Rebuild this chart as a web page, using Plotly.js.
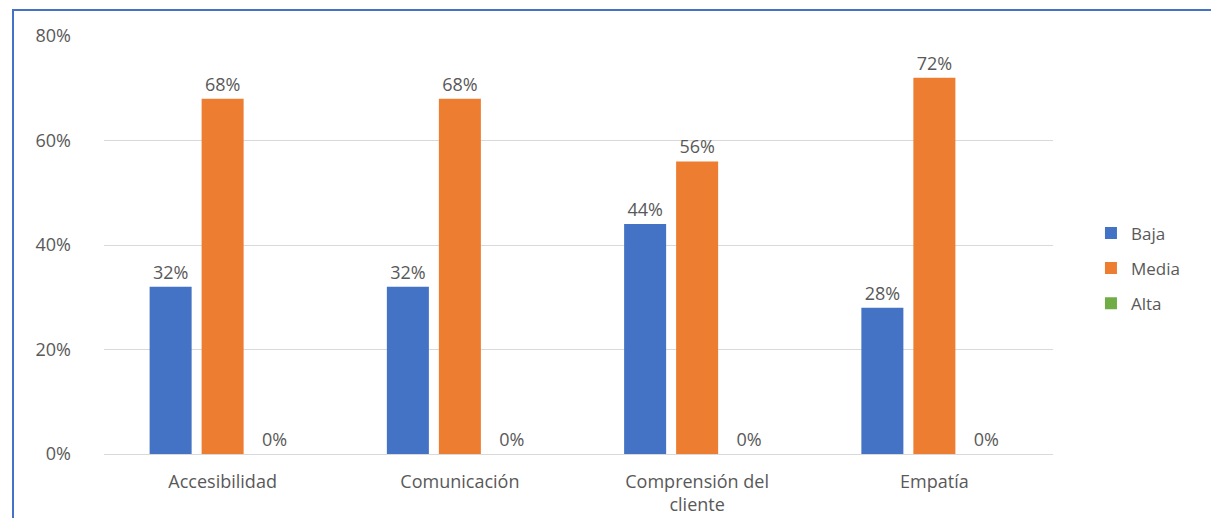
<!DOCTYPE html>
<html><head><meta charset="utf-8">
<script src="https://cdn.plot.ly/plotly-3.0.1.min.js"></script>
<style>
html,body{margin:0;padding:0;background:#fff;overflow:hidden;}
#chart{position:absolute;left:0;top:0;width:1211px;height:518px;}
#frame{position:absolute;left:12px;top:9px;width:1300px;height:600px;border:2px solid #4472C4;pointer-events:none;box-sizing:border-box;}
</style></head>
<body>
<div id="chart"></div>
<div id="frame"></div>
<script>
const categories = ["Accesibilidad", "Comunicación", "Comprensión del<br>cliente", "Empatía"];
const baja = [0.32, 0.32, 0.44, 0.28];
const media = [0.68, 0.68, 0.56, 0.72];
const alta = [0, 0, 0, 0];
const tickVals = [0, 0.2, 0.4, 0.6, 0.8];
const tickText = ["0%", "20%", "40%", "60%", "80%"];

const fontFam = "'Open Sans', 'Noto Sans', sans-serif";
function mk(name, vals, color) {
  return {
    type: "bar", name: name, x: categories, y: vals,
    legendgroup: name,
    marker: {color: color},
    text: vals.map(v => Math.round(v * 100) + "%"),
    textposition: "outside", cliponaxis: false,
    textfont: {family: fontFam, size: 18, color: "#595959"},
    hoverinfo: "none"
  };
}
const data = [
  mk("Baja", baja, "#4472C4"),
  mk("Media", media, "#ED7D31"),
  mk("Alta", alta, "#70AD47")
];
const layout = {
  width: 1211, height: 518,
  margin: {l: 104, r: 158, t: 36, b: 64},
  paper_bgcolor: "#fff", plot_bgcolor: "#fff",
  barmode: "group", bargap: 0.3425, bargroupgap: 0.192,
  font: {family: fontFam, size: 18, color: "#595959"},
  showlegend: true,
  legend: {x: 1.04, y: 0.444, xanchor: "left", yanchor: "middle",
           font: {family: fontFam, size: 17, color: "#595959"},
           itemwidth: 30, tracegroupgap: 10},
  xaxis: {showgrid: false, showline: true, linecolor: "#d9d9d9", linewidth: 1,
          ticks: "", ticklabelstandoff: 11,
          tickfont: {family: fontFam, size: 18, color: "#595959"}},
  yaxis: {range: [0, 0.8], tickvals: tickVals, ticktext: tickText,
          showgrid: true, gridcolor: "#d9d9d9", gridwidth: 1, zeroline: false,
          showline: false, ticks: "", ticklabelstandoff: 32,
          tickfont: {family: fontFam, size: 18, color: "#595959"}}
};
Plotly.newPlot("chart", data, layout, {displayModeBar: false, staticPlot: true});
</script>
</body></html>
